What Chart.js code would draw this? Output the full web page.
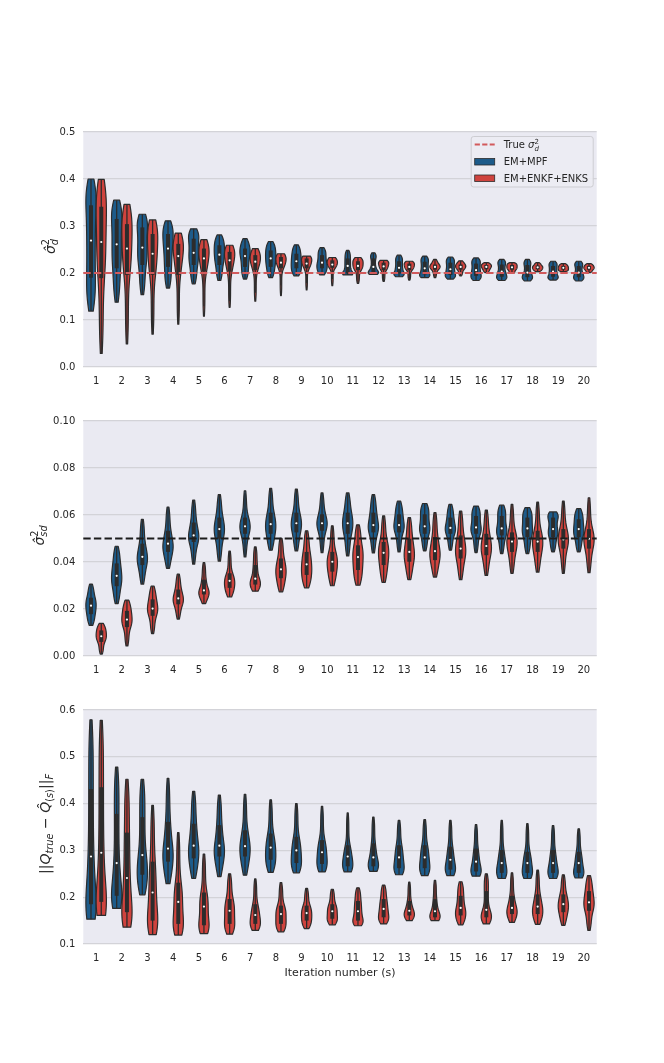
<!DOCTYPE html>
<html>
<head>
<meta charset="utf-8">
<script src="https://cdn.jsdelivr.net/npm/chart.js@4.4.1/dist/chart.umd.min.js"></script>
<style>
    html, body { margin: 0; padding: 0; background: #fff; }
    body { width: 664px; height: 1063px; position: relative; overflow: hidden; }
    canvas { position: absolute; left: 0; }
</style>
</head>
<body>
<canvas id="panelD"></canvas>
<canvas id="panelSD"></canvas>
<canvas id="panelQ"></canvas>
<script>
/* =========================
   DATA
   each entry: [min, q1, median, q3, max]
========================= */

const iterations = ["1","2","3","4","5","6","7","8","9","10",
                    "11","12","13","14","15","16","17","18","19","20"];

const sigmaD_MPF = [
    [0.119,0.190,0.269,0.344,0.400], [0.138,0.210,0.261,0.315,0.355],
    [0.154,0.217,0.254,0.297,0.325], [0.168,0.213,0.252,0.283,0.311],
    [0.177,0.217,0.243,0.273,0.294], [0.184,0.217,0.239,0.259,0.281],
    [0.187,0.213,0.236,0.252,0.273], [0.190,0.213,0.231,0.248,0.267],
    [0.194,0.210,0.225,0.241,0.260], [0.196,0.210,0.222,0.238,0.254],
    [0.196,0.199,0.215,0.231,0.248], [0.197,0.201,0.213,0.231,0.243],
    [0.192,0.199,0.211,0.225,0.238], [0.190,0.197,0.210,0.224,0.236],
    [0.187,0.196,0.208,0.222,0.234], [0.184,0.194,0.206,0.220,0.232],
    [0.184,0.192,0.203,0.218,0.229], [0.183,0.191,0.201,0.217,0.229],
    [0.185,0.192,0.203,0.215,0.225], [0.183,0.191,0.201,0.215,0.225]
];

const sigmaD_ENKF = [
    [0.029,0.189,0.266,0.341,0.399], [0.049,0.196,0.252,0.304,0.346],
    [0.070,0.196,0.241,0.283,0.313], [0.091,0.196,0.236,0.262,0.285],
    [0.108,0.203,0.231,0.252,0.271], [0.127,0.203,0.227,0.245,0.259],
    [0.140,0.206,0.224,0.238,0.252], [0.152,0.210,0.222,0.234,0.241],
    [0.164,0.210,0.220,0.231,0.236], [0.173,0.211,0.218,0.227,0.233],
    [0.178,0.206,0.215,0.225,0.233], [0.182,0.206,0.214,0.222,0.227],
    [0.185,0.206,0.213,0.220,0.225], [0.190,0.207,0.213,0.218,0.229],
    [0.194,0.207,0.213,0.218,0.226], [0.201,0.208,0.213,0.217,0.222],
    [0.199,0.207,0.212,0.217,0.222], [0.203,0.208,0.212,0.216,0.222],
    [0.203,0.207,0.211,0.215,0.220], [0.201,0.207,0.211,0.215,0.220]
];

const sigmaSD_MPF = [
    [0.0130,0.0178,0.0214,0.0248,0.0306], [0.0223,0.0297,0.0341,0.0394,0.0467],
    [0.0306,0.0387,0.0422,0.0478,0.0582], [0.0373,0.0443,0.0478,0.0533,0.0634],
    [0.0391,0.0485,0.0513,0.0568,0.0663], [0.0404,0.0499,0.0540,0.0589,0.0687],
    [0.0422,0.0520,0.0552,0.0589,0.0703], [0.0450,0.0520,0.0561,0.0610,0.0713],
    [0.0447,0.0526,0.0565,0.0610,0.0710], [0.0440,0.0533,0.0565,0.0603,0.0694],
    [0.0426,0.0520,0.0565,0.0610,0.0694], [0.0439,0.0526,0.0557,0.0610,0.0687],
    [0.0443,0.0526,0.0557,0.0603,0.0659], [0.0447,0.0520,0.0552,0.0603,0.0649],
    [0.0450,0.0520,0.0545,0.0589,0.0645], [0.0440,0.0520,0.0547,0.0596,0.0638],
    [0.0436,0.0513,0.0543,0.0596,0.0642], [0.0436,0.0506,0.0543,0.0589,0.0631],
    [0.0443,0.0506,0.0540,0.0589,0.0613], [0.0443,0.0506,0.0540,0.0582,0.0627]
];

const sigmaSD_ENKF = [
    [0.0008,0.0060,0.0084,0.0109,0.0139], [0.0043,0.0123,0.0155,0.0192,0.0238],
    [0.0095,0.0171,0.0202,0.0241,0.0297], [0.0157,0.0220,0.0245,0.0283,0.0348],
    [0.0223,0.0262,0.0279,0.0325,0.0397], [0.0251,0.0290,0.0320,0.0352,0.0446],
    [0.0276,0.0304,0.0329,0.0387,0.0464], [0.0273,0.0331,0.0369,0.0415,0.0501],
    [0.0290,0.0345,0.0390,0.0443,0.0533], [0.0299,0.0359,0.0401,0.0443,0.0554],
    [0.0301,0.0366,0.0421,0.0471,0.0558], [0.0313,0.0387,0.0439,0.0485,0.0596],
    [0.0325,0.0401,0.0443,0.0499,0.0589], [0.0336,0.0408,0.0446,0.0506,0.0610],
    [0.0325,0.0415,0.0457,0.0513,0.0617], [0.0343,0.0429,0.0468,0.0520,0.0621],
    [0.0352,0.0443,0.0487,0.0526,0.0645], [0.0357,0.0443,0.0487,0.0533,0.0655],
    [0.0352,0.0457,0.0496,0.0540,0.0659], [0.0355,0.0457,0.0499,0.0540,0.0673]
];

const qErr_MPF = [
    [0.153,0.185,0.287,0.431,0.579], [0.176,0.203,0.273,0.378,0.478],
    [0.205,0.248,0.290,0.371,0.452], [0.229,0.276,0.304,0.361,0.454],
    [0.240,0.283,0.310,0.357,0.426], [0.244,0.287,0.310,0.354,0.418],
    [0.247,0.287,0.309,0.343,0.420], [0.253,0.280,0.306,0.336,0.408],
    [0.252,0.273,0.300,0.329,0.400], [0.254,0.271,0.296,0.322,0.394],
    [0.254,0.266,0.287,0.311,0.380], [0.255,0.266,0.285,0.315,0.371],
    [0.248,0.262,0.285,0.311,0.364], [0.246,0.262,0.285,0.311,0.366],
    [0.246,0.259,0.280,0.308,0.364], [0.245,0.255,0.276,0.304,0.355],
    [0.240,0.252,0.273,0.301,0.364], [0.240,0.252,0.273,0.297,0.357],
    [0.240,0.252,0.273,0.301,0.353], [0.241,0.252,0.273,0.297,0.346]
];

const qErr_ENKF = [
    [0.161,0.190,0.295,0.435,0.578], [0.136,0.168,0.241,0.338,0.452],
    [0.120,0.150,0.210,0.276,0.396], [0.119,0.143,0.190,0.231,0.338],
    [0.122,0.140,0.180,0.210,0.292], [0.121,0.143,0.171,0.196,0.250],
    [0.129,0.143,0.162,0.185,0.239], [0.126,0.143,0.164,0.182,0.231],
    [0.133,0.150,0.166,0.182,0.219], [0.141,0.154,0.170,0.185,0.217],
    [0.139,0.150,0.170,0.192,0.220], [0.143,0.157,0.175,0.196,0.226],
    [0.150,0.161,0.171,0.192,0.232], [0.150,0.157,0.170,0.196,0.236],
    [0.141,0.161,0.177,0.203,0.233], [0.143,0.157,0.173,0.213,0.250],
    [0.146,0.164,0.177,0.203,0.252], [0.142,0.164,0.180,0.206,0.258],
    [0.140,0.168,0.185,0.206,0.248], [0.129,0.171,0.189,0.213,0.246]
];

const trueSigmaD = 0.2;
const trueSigmaSD = 0.05;

const sigmaDTicks = [0.0, 0.1, 0.2, 0.3, 0.4, 0.5];
const sigmaSDTicks = [0.00, 0.02, 0.04, 0.06, 0.08, 0.10];
const qErrTicks = [0.1, 0.2, 0.3, 0.4, 0.5, 0.6];

const seriesNames = ["EM+MPF", "EM+ENKF+ENKS"];

/* =========================
   STYLE
========================= */

const FONT = '"DejaVu Sans", sans-serif';
const INK = "#262626";
const BLUE = "#1d5b8a";
const RED = "#cf433e";
const REF_RED = "#d25a5c";
const BG = "#eaeaf2";
const GRID = "#d3d3d8";
const EDGE = "#2c2c2c";

/* =========================
   MATH TEXT (sub/superscripts)
========================= */

function drawMath(ctx, runs, x, y, size, align, rotate) {
    ctx.save();
    ctx.translate(x, y);
    if (rotate) ctx.rotate(-Math.PI / 2);

    let cursor = 0, prevStart = 0;
    const items = [];
    runs.forEach(r => {
        const sz = r.lvl ? size * 0.7 : size;
        const font = (r.it ? "italic " : "") + sz + "px " + FONT;
        ctx.font = font;
        const w = ctx.measureText(r.t).width;
        let start;
        if (r.stack) {
            start = prevStart;
            cursor = Math.max(cursor, start + w);
        } else {
            start = cursor;
            cursor += w;
        }
        const dy = r.lvl > 0 ? -0.42 * size : (r.lvl < 0 ? 0.24 * size : 0);
        items.push({ t: r.t, font, x: start, dy });
        prevStart = start;
    });

    const shift = align === "center" ? -cursor / 2 : 0;
    ctx.fillStyle = INK;
    ctx.textAlign = "left";
    ctx.textBaseline = "alphabetic";
    items.forEach(it => {
        ctx.font = it.font;
        ctx.fillText(it.t, it.x + shift, it.dy);
    });
    ctx.restore();
}

/* =========================
   VIOLIN SHAPES
========================= */

// width profile from the five summary values: dense quartile bands are wide
function violinProfile(s, n) {
    const lo = s[0], hi = s[4];
    const raw = [];
    for (let i = 0; i <= n; i++) {
        const v = lo + (hi - lo) * i / n;
        let k = 0;
        while (k < 3 && v > s[k + 1]) k++;
        raw.push(0.25 / Math.max(s[k + 1] - s[k], (hi - lo) * 0.02));
    }
    const bw = n * 0.11;
    const norm = bw * Math.sqrt(2 * Math.PI);
    const out = raw.map((_, i) => {
        let sum = 0;
        for (let j = 0; j <= n; j++) {
            sum += raw[j] * Math.exp(-0.5 * ((i - j) / bw) ** 2);
        }
        return sum / norm;
    });
    const peak = Math.max(...out);
    return out.map(d => Math.pow(d / peak, 1.2));
}

function drawViolin(ctx, yScale, cx, hw, s, color) {
    const n = 48;
    const prof = violinProfile(s, n);
    const lo = s[0], hi = s[4];

    ctx.beginPath();
    for (let i = 0; i <= n; i++) {
        const py = yScale.getPixelForValue(lo + (hi - lo) * i / n);
        ctx.lineTo(cx - hw * prof[i], py);
    }
    for (let i = n; i >= 0; i--) {
        const py = yScale.getPixelForValue(lo + (hi - lo) * i / n);
        ctx.lineTo(cx + hw * prof[i], py);
    }
    ctx.closePath();
    ctx.fillStyle = color;
    ctx.fill();
    ctx.lineWidth = 1.2;
    ctx.lineJoin = "round";
    ctx.strokeStyle = EDGE;
    ctx.stroke();

    // inner box: whiskers, quartile bar, median dot
    const iqr = s[3] - s[1];
    const wLo = Math.max(s[0], s[1] - 1.5 * iqr);
    const wHi = Math.min(s[4], s[3] + 1.5 * iqr);
    ctx.lineCap = "butt";
    ctx.beginPath();
    ctx.moveTo(cx, yScale.getPixelForValue(wLo));
    ctx.lineTo(cx, yScale.getPixelForValue(wHi));
    ctx.lineWidth = 1.3;
    ctx.stroke();

    ctx.beginPath();
    ctx.moveTo(cx, yScale.getPixelForValue(s[1]));
    ctx.lineTo(cx, yScale.getPixelForValue(s[3]));
    ctx.lineWidth = 4;
    ctx.stroke();

    ctx.beginPath();
    ctx.arc(cx, yScale.getPixelForValue(s[2]), 1.1, 0, Math.PI * 2);
    ctx.fillStyle = "#ffffff";
    ctx.fill();
}

/* =========================
   PANEL PLUGIN
========================= */

function panelPlugin(cfg) {
    return {
        id: "panel_" + cfg.id,
        beforeDraw(chart) {
            const { ctx, chartArea: a } = chart;
            ctx.save();
            ctx.fillStyle = BG;
            ctx.fillRect(a.left, a.top, a.right - a.left, a.bottom - a.top);
            ctx.restore();
        },
        afterDatasetsDraw(chart) {
            const { ctx, chartArea: a } = chart;
            const x = chart.scales.x, y = chart.scales.y;
            const cat = (x.right - x.left) / iterations.length;

            ctx.save();
            iterations.forEach((_, i) => {
                cfg.series.forEach((s, k) => {
                    const cx = x.getPixelForValue(i) + (k === 0 ? -0.2 : 0.2) * cat;
                    drawViolin(ctx, y, cx, 0.2 * cat, s.stats[i], s.color);
                });
            });

            // reference line
            if (cfg.ref) {
                const ry = y.getPixelForValue(cfg.ref.value);
                ctx.beginPath();
                ctx.setLineDash([7.4, 3.2]);
                ctx.moveTo(a.left, ry);
                ctx.lineTo(a.right, ry);
                ctx.lineWidth = 2;
                ctx.strokeStyle = cfg.ref.color;
                ctx.stroke();
                ctx.setLineDash([]);
            }
            ctx.restore();

            if (cfg.legend) drawLegend(ctx, a);
        },
        afterDraw(chart) {
            const a = chart.chartArea;
            drawMath(chart.ctx, cfg.yTitle, cfg.yTitleX, (a.top + a.bottom) / 2 - 3, 14, "center", true);
        }
    };
}

function drawLegend(ctx, a) {
    const w = 122, h = 50.5;
    const x0 = a.right - 4 - w, y0 = a.top + 4;

    ctx.save();
    ctx.beginPath();
    ctx.roundRect(x0 + 0.5, y0 + 0.5, w, h, 2.5);
    ctx.fillStyle = "rgba(236,236,243,0.9)";
    ctx.fill();
    ctx.lineWidth = 1;
    ctx.strokeStyle = "#cdcdd2";
    ctx.stroke();

    const rows = [y0 + 8.5, y0 + 25.5, y0 + 42];

    ctx.beginPath();
    ctx.setLineDash([5.2, 2.3]);
    ctx.moveTo(x0 + 4, rows[0]);
    ctx.lineTo(x0 + 24, rows[0]);
    ctx.lineWidth = 2;
    ctx.strokeStyle = REF_RED;
    ctx.stroke();
    ctx.setLineDash([]);

    [BLUE, RED].forEach((c, k) => {
        ctx.fillStyle = c;
        ctx.fillRect(x0 + 4, rows[k + 1] - 3, 20, 6.5);
        ctx.lineWidth = 0.8;
        ctx.strokeStyle = EDGE;
        ctx.strokeRect(x0 + 4, rows[k + 1] - 3, 20, 6.5);
    });
    ctx.restore();

    drawMath(ctx, [
        { t: "True " }, { t: "σ", it: 1 }, { t: "2", lvl: 1 }, { t: "d", it: 1, lvl: -1, stack: 1 }
    ], x0 + 33, rows[0] + 3.6, 10, "left", false);
    drawMath(ctx, [{ t: seriesNames[0] }], x0 + 33, rows[1] + 3.6, 10, "left", false);
    drawMath(ctx, [{ t: seriesNames[1] }], x0 + 33, rows[2] + 3.6, 10, "left", false);
}

/* =========================
   CHART BUILDER
========================= */

function makePanel(cfg) {
    const canvas = document.getElementById(cfg.id);
    const plotH = cfg.bottom - cfg.top;
    canvas.width = 664;
    canvas.height = 10 + plotH + cfg.xh;
    canvas.style.top = (cfg.top - 10) + "px";

    return new Chart(canvas, {
        type: "bar",
        data: {
            labels: iterations,
            datasets: cfg.series.map((s, k) => ({
                label: seriesNames[k],
                data: s.stats.map(v => [v[0], v[4]]),
                backgroundColor: "rgba(0,0,0,0)",
                borderWidth: 0
            }))
        },
        options: {
            responsive: false,
            animation: false,
            events: [],
            layout: { padding: { left: 0, right: 67.3, top: 10, bottom: 0 } },
            plugins: {
                legend: { display: false },
                tooltip: { enabled: false }
            },
            scales: {
                x: {
                    type: "category",
                    offset: true,
                    grid: { display: false, drawTicks: false },
                    border: { display: false },
                    ticks: {
                        color: INK,
                        font: { family: FONT, size: 10 },
                        padding: 8,
                        maxRotation: 0,
                        autoSkip: false
                    },
                    title: cfg.xTitle ? {
                        display: true,
                        text: cfg.xTitle,
                        color: INK,
                        font: { family: FONT, size: 11 },
                        padding: { top: 3, bottom: 0 }
                    } : { display: false },
                    afterFit: s => { s.height = cfg.xh; }
                },
                y: {
                    min: cfg.ticks[0],
                    max: cfg.ticks[cfg.ticks.length - 1],
                    afterBuildTicks: s => { s.ticks = cfg.ticks.map(v => ({ value: v })); },
                    ticks: {
                        color: INK,
                        font: { family: FONT, size: 10 },
                        padding: 8,
                        callback: v => Number(v).toFixed(cfg.digits)
                    },
                    grid: { color: GRID, lineWidth: 1.2, drawTicks: false },
                    border: { display: false },
                    afterFit: s => { s.width = 83.3; }
                }
            }
        },
        plugins: [panelPlugin(cfg)]
    });
}

makePanel({
    id: "panelD", top: 128, bottom: 367, xh: 30,
    ticks: sigmaDTicks, digits: 1,
    series: [{ stats: sigmaD_MPF, color: BLUE }, { stats: sigmaD_ENKF, color: RED }],
    ref: { value: trueSigmaD, color: REF_RED },
    legend: true,
    yTitleX: 55,
    yTitle: [{ t: "σ̂", it: 1 }, { t: "2", lvl: 1 }, { t: "d", it: 1, lvl: -1, stack: 1 }]
});

makePanel({
    id: "panelSD", top: 417, bottom: 656, xh: 30,
    ticks: sigmaSDTicks, digits: 2,
    series: [{ stats: sigmaSD_MPF, color: BLUE }, { stats: sigmaSD_ENKF, color: RED }],
    ref: { value: trueSigmaSD, color: "#1c1c1c" },
    legend: false,
    yTitleX: 44,
    yTitle: [{ t: "σ̂", it: 1 }, { t: "2", lvl: 1 }, { t: "sd", it: 1, lvl: -1, stack: 1 }]
});

makePanel({
    id: "panelQ", top: 706, bottom: 944, xh: 36,
    ticks: qErrTicks, digits: 1,
    series: [{ stats: qErr_MPF, color: BLUE }, { stats: qErr_ENKF, color: RED }],
    ref: null,
    legend: false,
    xTitle: "Iteration number (s)",
    yTitleX: 50,
    yTitle: [
        { t: "||" }, { t: "Q", it: 1 }, { t: "true", it: 1, lvl: -1 }, { t: " − " },
        { t: "Q̂", it: 1 }, { t: "(", lvl: -1 }, { t: "s", it: 1, lvl: -1 }, { t: ")", lvl: -1 },
        { t: "||" }, { t: "F", it: 1, lvl: -1 }
    ]
});
</script>
</body>
</html>
